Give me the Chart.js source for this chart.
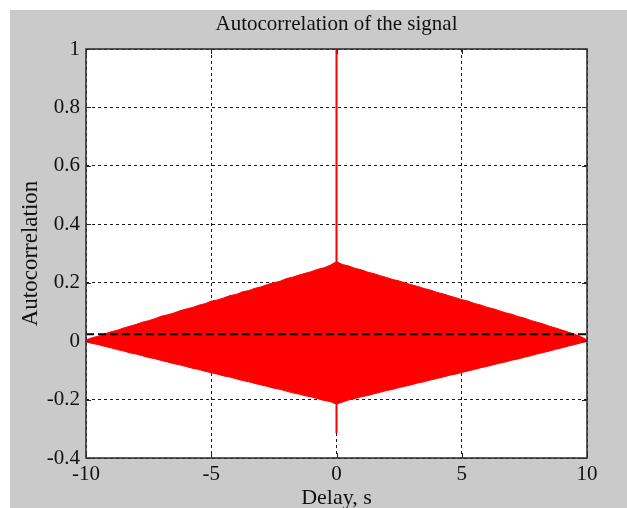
<!DOCTYPE html>
<html>
<head>
<meta charset="utf-8">
<title>Autocorrelation of the signal</title>
<script src="https://cdn.jsdelivr.net/npm/chart.js@4/dist/chart.umd.min.js"></script>
<style>
  html, body { margin: 0; padding: 0; background: #ffffff; overflow: hidden; width: 627px; height: 508px; }
  #frame { position: absolute; left: 10px; top: 10px; width: 617px; height: 510px; background: rgb(202,202,202); }
  canvas { display: block; }
</style>
</head>
<body>
<div id="frame"><canvas id="acf" width="617" height="510"></canvas></div>
<script>
// Delay axis, seconds
const delays = [-10,-9.75,-9.5,-9.25,-9,-8.75,-8.5,-8.25,-8,-7.75,-7.5,-7.25,-7,-6.75,-6.5,-6.25,-6,-5.75,-5.5,-5.25,-5,-4.75,-4.5,-4.25,-4,-3.75,-3.5,-3.25,-3,-2.75,-2.5,-2.25,-2,-1.75,-1.5,-1.25,-1,-0.75,-0.5,-0.25,0,0.25,0.5,0.75,1,1.25,1.5,1.75,2,2.25,2.5,2.75,3,3.25,3.5,3.75,4,4.25,4.5,4.75,5,5.25,5.5,5.75,6,6.25,6.5,6.75,7,7.25,7.5,7.75,8,8.25,8.5,8.75,9,9.25,9.5,9.75,10];

// Upper and lower extent of the dense autocorrelation trace at each delay
const upperEnvelope = [
  0.004,0.012,0.017,0.025,0.032,0.037,0.045,0.051,0.057,0.065,
  0.070,0.077,0.085,0.090,0.096,0.104,0.110,0.115,0.123,0.128,
  0.137,0.141,0.148,0.156,0.160,0.169,0.173,0.181,0.186,0.194,
  0.200,0.205,0.214,0.219,0.226,0.232,0.238,0.246,0.251,0.260,
  0.272,
  0.262,0.257,0.249,0.244,0.236,0.231,0.224,0.218,0.211,0.206,
  0.199,0.193,0.187,0.180,0.175,0.167,0.162,0.155,0.149,0.142,
  0.137,0.129,0.124,0.116,0.111,0.104,0.097,0.092,0.084,0.079,
  0.071,0.065,0.059,0.051,0.045,0.038,0.031,0.024,0.016,0.004];
const lowerEnvelope = [
  -0.002,-0.008,-0.012,-0.018,-0.023,-0.029,-0.034,-0.040,-0.044,-0.050,
  -0.056,-0.060,-0.066,-0.071,-0.077,-0.081,-0.087,-0.093,-0.097,-0.103,
  -0.108,-0.113,-0.119,-0.123,-0.129,-0.135,-0.139,-0.145,-0.150,-0.155,
  -0.161,-0.165,-0.171,-0.177,-0.181,-0.187,-0.191,-0.197,-0.203,-0.207,
  -0.216,
  -0.208,-0.201,-0.196,-0.190,-0.186,-0.180,-0.175,-0.169,-0.165,-0.159,
  -0.154,-0.149,-0.143,-0.139,-0.133,-0.128,-0.123,-0.117,-0.113,-0.107,
  -0.102,-0.097,-0.091,-0.087,-0.081,-0.076,-0.071,-0.065,-0.061,-0.055,
  -0.050,-0.044,-0.039,-0.034,-0.028,-0.023,-0.017,-0.012,-0.006,-0.001];

// Zero-lag peak
const spikeDelays = [0, 0];
const spikeValues = [-0.315, 1.0];

// Mean level of the autocorrelation (dashed reference line)
const meanDelays = [-10, 10];
const meanLevel = 0.024;

// Axis ticks
const xTicks = [-10, -5, 0, 5, 10];
const xTickLabels = ['-10', '-5', '0', '5', '10'];
const yTicks = [-0.4, -0.2, 0, 0.2, 0.4, 0.6, 0.8, 1];
const yTickLabels = ['-0.4', '-0.2', '0', '0.2', '0.4', '0.6', '0.8', '1'];

const SERIF = '"Liberation Serif", "Times New Roman", serif';
const RED = '#ff0000';

const toPoints = (xs, ys) => xs.map((x, i) => ({ x: x, y: ys[i] }));

// White axes background, boxed frame with inward ticks, title centred over the axes
const axesFrame = {
  id: 'axesFrame',
  afterLayout(chart) {
    const a = chart.chartArea;
    if (chart.titleBlock) {
      chart.titleBlock.left = a.left;
      chart.titleBlock.right = a.right;
    }
  },
  beforeDraw(chart) {
    const { ctx, chartArea: a } = chart;
    ctx.save();
    ctx.fillStyle = '#ffffff';
    ctx.fillRect(a.left, a.top, a.right - a.left, a.bottom - a.top);
    ctx.restore();
  },
  afterDatasetsDraw(chart) {
    const { ctx, chartArea: a, scales } = chart;
    const len = 5;
    ctx.save();
    ctx.strokeStyle = '#262626';
    ctx.lineWidth = 1;
    ctx.beginPath();
    xTicks.forEach(v => {
      const px = Math.round(scales.x.getPixelForValue(v)) + 0.5;
      ctx.moveTo(px, a.bottom); ctx.lineTo(px, a.bottom - len);
      ctx.moveTo(px, a.top); ctx.lineTo(px, a.top + len);
    });
    yTicks.forEach(v => {
      const py = Math.round(scales.y.getPixelForValue(v)) + 0.5;
      ctx.moveTo(a.left, py); ctx.lineTo(a.left + len, py);
      ctx.moveTo(a.right, py); ctx.lineTo(a.right - len, py);
    });
    ctx.stroke();
    ctx.strokeStyle = '#333333';
    ctx.lineWidth = 1.6;
    ctx.strokeRect(a.left, a.top, a.right - a.left, a.bottom - a.top);
    ctx.restore();
  }
};

new Chart(document.getElementById('acf'), {
  type: 'line',
  data: {
    datasets: [
      {
        label: 'Mean',
        data: toPoints(meanDelays, [meanLevel, meanLevel]),
        borderColor: '#000000',
        borderWidth: 2,
        borderDash: [8, 4],
        pointRadius: 0,
        fill: false,
        order: 0
      },
      {
        label: 'Peak',
        data: toPoints(spikeDelays, spikeValues),
        borderColor: RED,
        borderWidth: 2,
        pointRadius: 0,
        fill: false,
        order: 1
      },
      {
        label: 'Upper',
        data: toPoints(delays, upperEnvelope),
        borderColor: RED,
        backgroundColor: RED,
        borderWidth: 1,
        pointRadius: 0,
        tension: 0,
        fill: '+1',
        order: 2
      },
      {
        label: 'Lower',
        data: toPoints(delays, lowerEnvelope),
        borderColor: RED,
        borderWidth: 1,
        pointRadius: 0,
        tension: 0,
        fill: false,
        order: 3
      }
    ]
  },
  options: {
    responsive: false,
    animation: false,
    events: [],
    layout: { padding: { left: 0, right: 40, top: 0, bottom: 0 } },
    plugins: {
      legend: { display: false },
      tooltip: { enabled: false },
      title: {
        display: true,
        text: 'Autocorrelation of the signal',
        color: '#111111',
        font: { family: SERIF, size: 21, weight: 'normal' },
        padding: { top: 2, bottom: 11.8 }
      }
    },
    scales: {
      x: {
        type: 'linear',
        min: -10,
        max: 10,
        afterBuildTicks: s => { s.ticks = xTicks.map(v => ({ value: v })); },
        afterFit: s => { s.height = 62; },
        ticks: {
          autoSkip: false,
          maxRotation: 0,
          padding: 4,
          color: '#111111',
          font: { family: SERIF, size: 21 },
          callback: v => xTickLabels[xTicks.indexOf(v)]
        },
        grid: { color: '#1a1a1a', lineWidth: 1, drawTicks: false },
        border: { display: false, dash: [3, 3] },
        title: {
          display: true,
          text: 'Delay, s',
          color: '#111111',
          font: { family: SERIF, size: 22 },
          padding: { top: 0, bottom: 9 }
        }
      },
      y: {
        type: 'linear',
        min: -0.4,
        max: 1,
        afterBuildTicks: s => { s.ticks = yTicks.map(v => ({ value: v })); },
        afterFit: s => { s.width = 76; },
        ticks: {
          padding: 6,
          color: '#111111',
          font: { family: SERIF, size: 21 },
          callback: v => yTickLabels[yTicks.findIndex(t => Math.abs(t - v) < 1e-9)]
        },
        grid: { color: '#1a1a1a', lineWidth: 1, drawTicks: false },
        border: { display: false, dash: [3, 3] },
        title: {
          display: true,
          text: 'Autocorrelation',
          color: '#111111',
          font: { family: SERIF, size: 23 },
          padding: { top: 7.1, bottom: 0 }
        }
      }
    }
  },
  plugins: [axesFrame]
});
</script>
</body>
</html>
